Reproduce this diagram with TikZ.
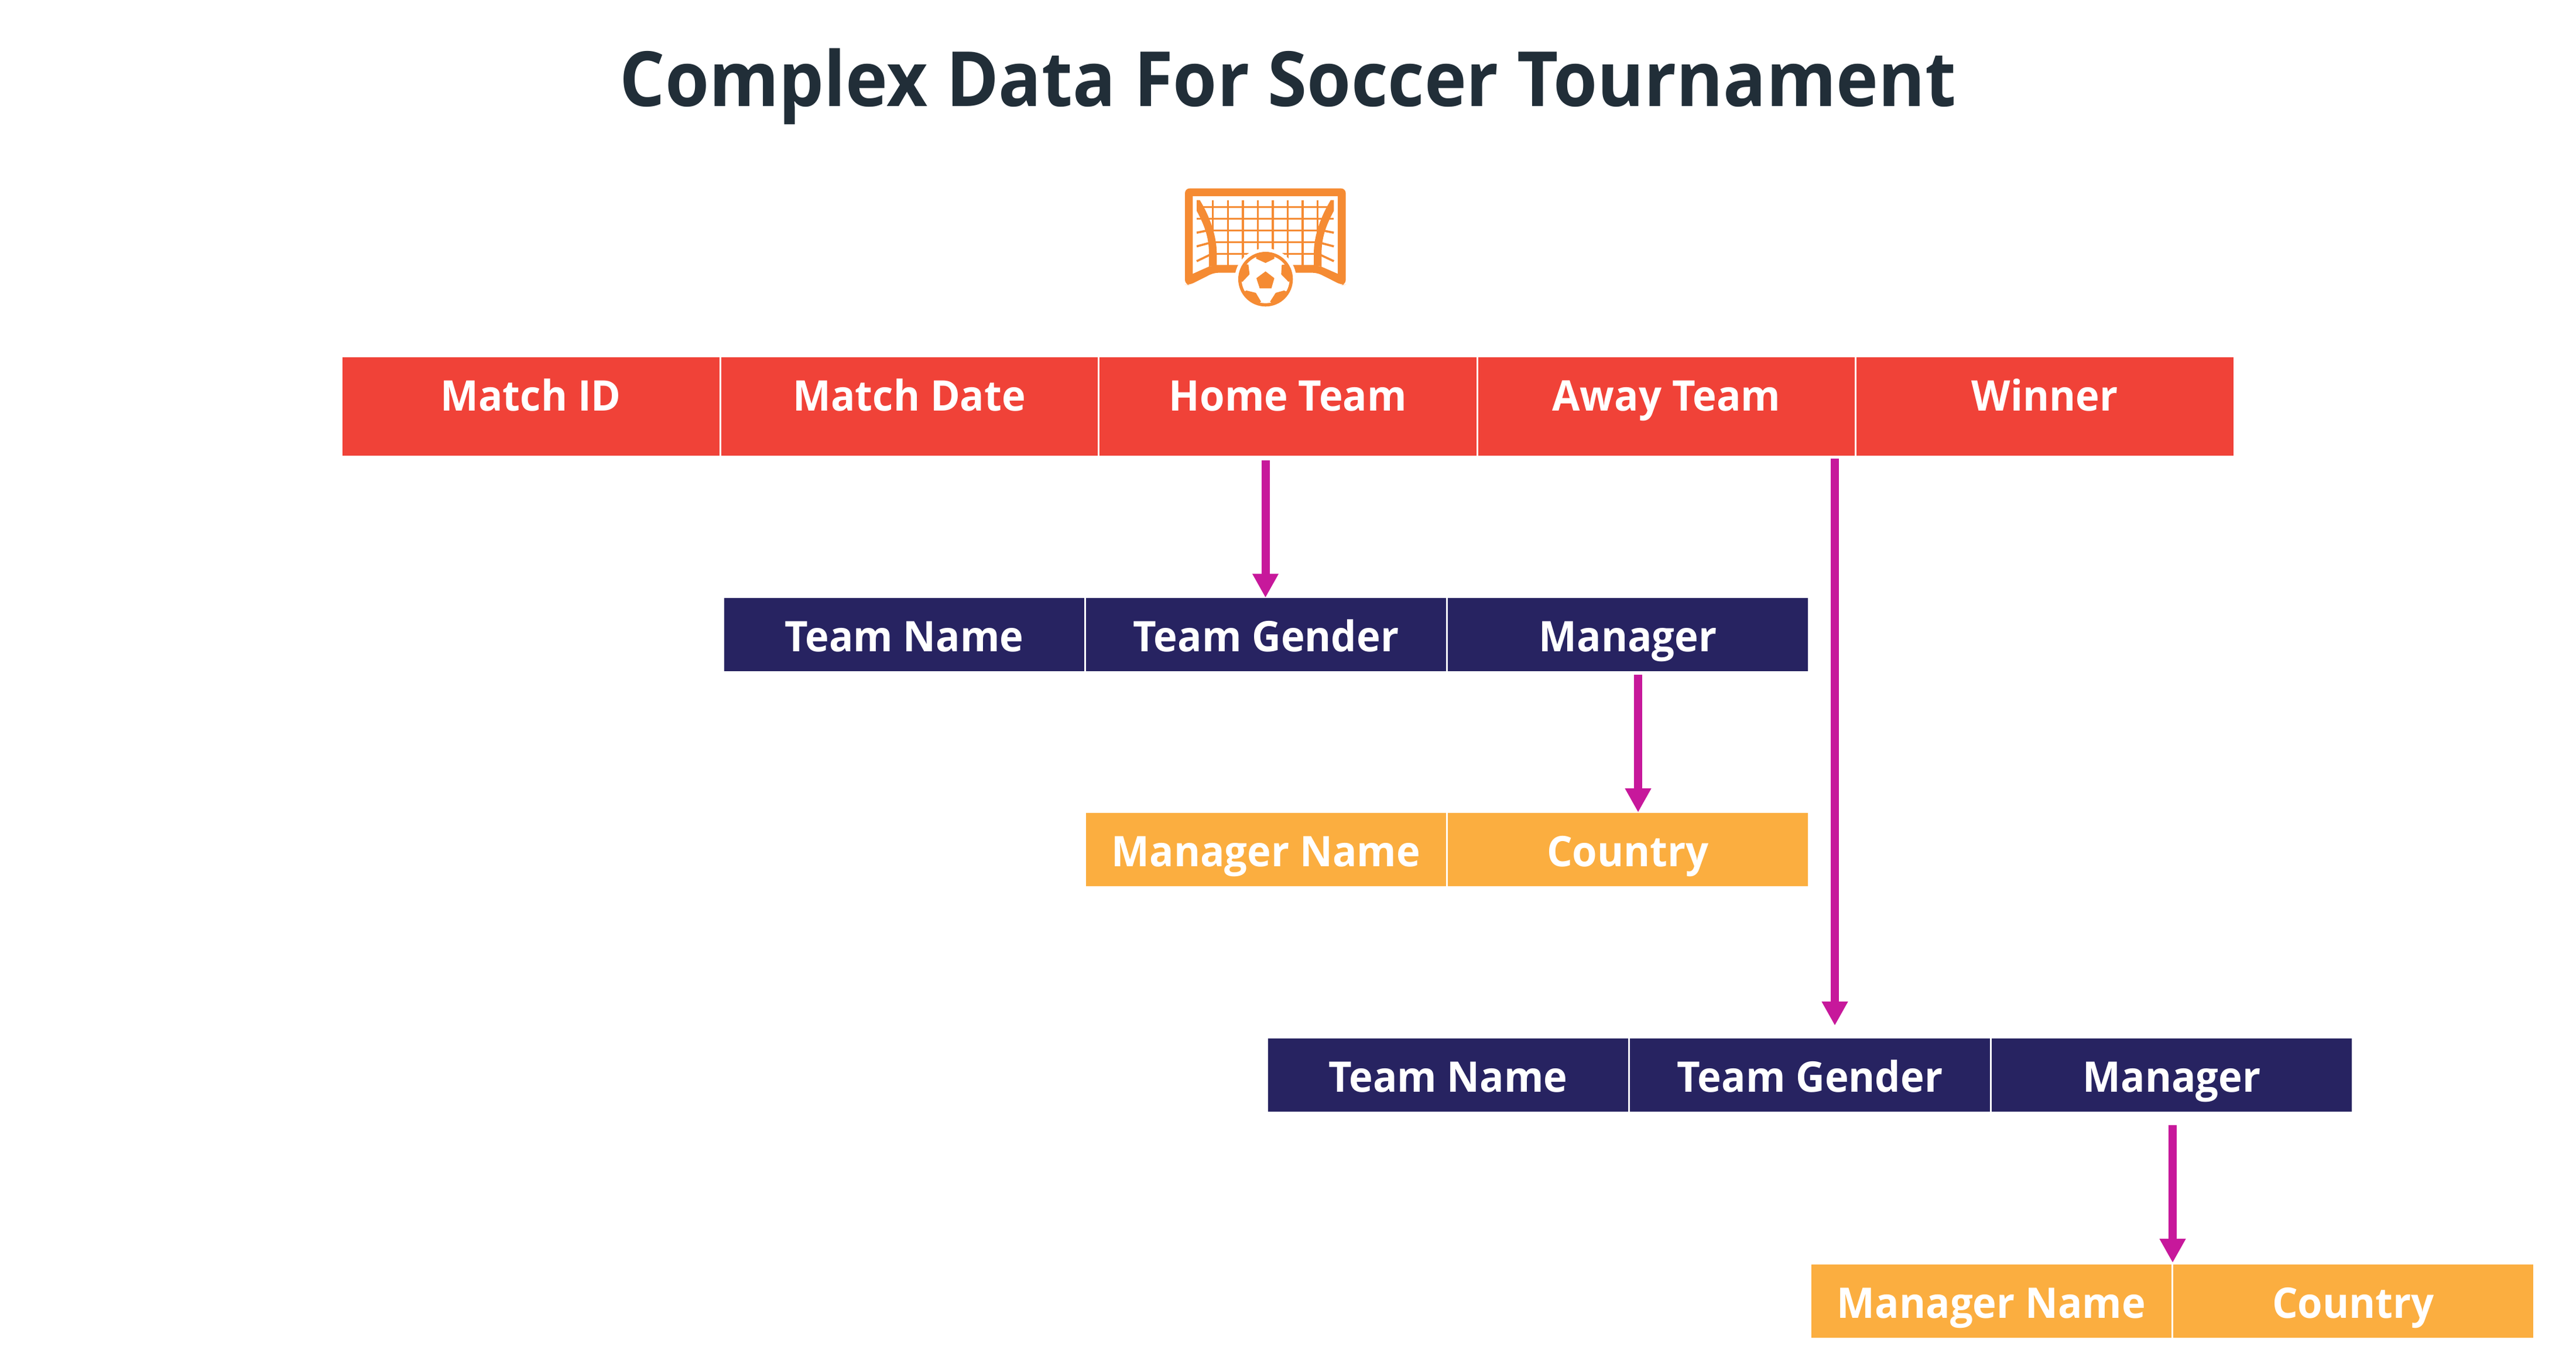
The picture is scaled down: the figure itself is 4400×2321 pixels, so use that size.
\documentclass[tikz,border=0pt]{standalone}
\usepackage{fontspec}
\setmainfont{Open Sans}
\newfontfamily\cellfont[FakeStretch=0.955]{Open Sans}
\newfontfamily\titlefont[FakeStretch=0.935]{Open Sans}
\usetikzlibrary{arrows.meta}
\definecolor{redcell}{RGB}{240,66,56}
\definecolor{navycell}{RGB}{39,35,97}
\definecolor{orangecell}{RGB}{251,174,64}
\definecolor{iconor}{RGB}{245,139,51}
\definecolor{arrowc}{RGB}{199,24,155}
\definecolor{titlec}{RGB}{33,46,56}
\tikzset{
  x=1pt,y=-1pt,
  cell/.style={anchor=north west,inner sep=0pt,outer sep=0pt,draw=white,line width=3pt,text=white,align=center,
    font=\cellfont\fontsize{72}{86}\selectfont\bfseries},
  redbox/.style={cell,fill=redcell,minimum width=646.5pt,text height=92.5pt,text depth=78.5pt},
  navybox/.style={cell,fill=navycell,minimum width=618pt,text height=92.5pt,text depth=35.5pt},
  orangebox/.style={cell,fill=orangecell,minimum width=618pt,text height=92.5pt,text depth=35.5pt},
  link/.style={draw=arrowc,line width=14pt,-{Triangle[length=41pt,width=42pt]}},
}
\begin{document}
\begin{tikzpicture}
\useasboundingbox (0,0) rectangle (4400,2321);
\node[anchor=base,text=titlec,font=\titlefont\fontsize{130}{150}\selectfont\bfseries] (title) at (2200,181) {Complex Data For Soccer Tournament};

% icon
\begin{scope}[shift={(1980,290)},x=0.3333pt,y=-0.3333pt]
\fill[iconor,rounded corners=8pt] (132,95) -- (956,95) -- (956,588) -- (935,590) -- (810,527) -- (280,527) -- (155,590) -- (132,588) -- cycle;
\fill[white] (172,135) -- (915,135) -- (915,532) -- (830,495) -- (790,487) -- (295,487) -- (255,495) -- (172,532) -- cycle;
\foreach \vx in {275,352,429,505,582,658,735,811}
  \draw[iconor,line width=3.6pt] (\vx,155) -- (\vx,490);
\foreach \hy in {190,250}
  \draw[iconor,line width=3.6pt] (192,\hy) -- (895,\hy);
\foreach \hy in {310,370,430}
  \draw[iconor,line width=3.6pt] (270,\hy) -- (820,\hy);
\draw[iconor,line width=3.6pt] (192,322) -- (250,310) (192,392) -- (255,375) (192,468) -- (260,435);
\draw[iconor,line width=3.6pt] (895,322) -- (835,310) (895,392) -- (830,375) (895,468) -- (825,435);
\fill[iconor] (192,155) -- (208,155) .. controls (260,240) and (295,340) .. (295,430) -- (295,490) -- (255,495) -- (255,430) .. controls (255,350) and (235,290) .. (192,210) -- cycle;
\fill[iconor] (895,155) -- (879,155) .. controls (827,240) and (792,340) .. (792,430) -- (792,490) -- (832,495) -- (832,430) .. controls (832,350) and (852,290) .. (895,210) -- cycle;
\fill[white] (545,560) circle [radius=158];
\fill[iconor] (545,560) circle [radius=140];
\fill[white] (545,560) circle [radius=123];
\begin{scope}
\clip (545,560) circle [radius=125];
\fill[iconor] (545,520) -- (590,555) -- (575,607) -- (515,607) -- (498,555) -- cycle;
\fill[iconor] (497,455) -- (545,477) -- (590,455) -- (590,400) -- (497,400) -- cycle;
\fill[iconor] (457,485) -- (463,535) -- (427,573) -- (380,560) -- (400,480) -- cycle;
\fill[iconor] (628,487) -- (625,535) -- (662,573) -- (700,560) -- (680,480) -- cycle;
\fill[iconor] (447,618) -- (495,630) -- (522,675) -- (470,720) -- (400,640) -- cycle;
\fill[iconor] (640,618) -- (597,630) -- (568,675) -- (620,720) -- (690,640) -- cycle;
\end{scope}
\end{scope}

% main table
\node[redbox] (mid) at (583.5,608.5) {Match ID};
\node[redbox] (mdate) at (1230,608.5) {Match Date};
\node[redbox] (home) at (1876.5,608.5) {Home Team};
\node[redbox] (away) at (2523,608.5) {Away Team};
\node[redbox] (win) at (3169.5,608.5) {Winner};
% home team
\node[navybox] (tn1) at (1235.5,1019.5) {Team Name};
\node[navybox] (tg1) at (1853.5,1019.5) {Team Gender};
\node[navybox] (mg1) at (2471.5,1019.5) {Manager};
% home manager
\node[orangebox] (mn1) at (1853.5,1386.5) {Manager Name};
\node[orangebox] (co1) at (2471.5,1386.5) {Country};
% away team
\node[navybox] (tn2) at (2164.5,1771.5) {Team Name};
\node[navybox] (tg2) at (2782.5,1771.5) {Team Gender};
\node[navybox] (mg2) at (3400.5,1771.5) {Manager};
% away manager
\node[orangebox] (mn2) at (3092.5,2157.5) {Manager Name};
\node[orangebox] (co2) at (3710.5,2157.5) {Country};

\path (home.south -| tg1.north) ++(-1,6) coordinate (a1s);
\path (tg1.north) ++(-1,1) coordinate (a1e);
\draw[link] (a1s) -- (a1e);
\path (mg1.south) ++(17.5,4) coordinate (a2s);
\path (mg1.north) ++(17.5,367.5) coordinate (a2e);
\draw[link] (a2s) -- (a2e);
\path (away.south east) ++(-35.5,3.5) coordinate (a3s);
\path (a3s |- tg2.north) ++(0,-20.5) coordinate (a3e);
\draw[link] (a3s) -- (a3e);
\path (mn2.north east) ++(0.5,-1.5) coordinate (a4e);
\path (a4e |- mg2.south) ++(0,21.5) coordinate (a4s);
\draw[link] (a4s) -- (a4e);
\end{tikzpicture}
\end{document}
